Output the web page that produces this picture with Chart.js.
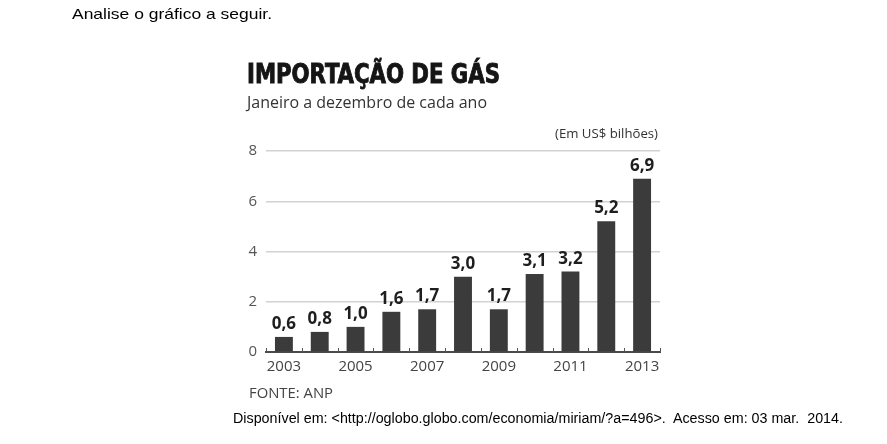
<!DOCTYPE html>
<html>
<head>
<meta charset="utf-8">
<script src="https://cdn.jsdelivr.net/npm/chart.js@4.4.1/dist/chart.umd.min.js"></script>
<style>
html,body{margin:0;padding:0;background:#fff;width:887px;height:444px;overflow:hidden;}
#wrap{position:relative;width:887px;height:444px;}
canvas{position:absolute;left:0;top:0;}
.t{position:absolute;white-space:nowrap;line-height:1;transform-origin:0 0;}
</style>
</head>
<body>
<div id="wrap">
<canvas id="c" width="887" height="444"></canvas>
<div class="t" id="intro" style="left:72px;top:6px;font:14.5px 'Liberation Sans',Arial,sans-serif;color:#000;" data-w="200">Analise o gráfico a seguir.</div>
<div class="t" id="title" style="left:247px;top:58px;font:bold 27px 'Liberation Sans Narrow','DejaVu Sans Condensed',sans-serif;color:#151515;-webkit-text-stroke:0.9px #151515;" data-w="253">IMPORTAÇÃO DE GÁS</div>
<div class="t" id="sub" style="left:247px;top:90px;font:17px 'Open Sans',sans-serif;color:#333;" data-w="240">Janeiro a dezembro de cada ano</div>
<div class="t" id="unit" style="left:555px;top:124px;font:13px 'Open Sans',sans-serif;color:#333;" data-w="103">(Em US$ bilhões)</div>
<div class="t" id="src" style="left:249px;top:382px;font:15px 'Open Sans',sans-serif;color:#444;" data-w="84">FONTE: ANP</div>
<div class="t" id="cite" style="left:233px;top:410px;font:14px 'Liberation Sans',Arial,sans-serif;color:#000;" data-w="610">Disponível em: &lt;http://oglobo.globo.com/economia/miriam/?a=496&gt;.&nbsp; Acesso em: 03 mar.&nbsp; 2014.</div>
</div>
<script>
const years = ['2003','2004','2005','2006','2007','2008','2009','2010','2011','2012','2013'];
const values = [0.6, 0.8, 1.0, 1.6, 1.7, 3.0, 1.7, 3.1, 3.2, 5.2, 6.9];
const yTicks = [0, 2, 4, 6, 8];

document.querySelectorAll('.t').forEach(el => {
  const w = +el.dataset.w;
  const r = el.getBoundingClientRect().width;
  if (w && r) el.style.transform = 'scaleX(' + (w / r) + ')';
});

const valueLabels = {
  id: 'valueLabels',
  afterDatasetsDraw(chart) {
    const ctx = chart.ctx;
    const meta = chart.getDatasetMeta(0);
    ctx.save();
    ctx.font = 'bold 17px "Open Sans", sans-serif';
    ctx.fillStyle = '#1e1e1e';
    ctx.textAlign = 'center';
    ctx.textBaseline = 'alphabetic';
    meta.data.forEach((bar, i) => {
      const txt = values[i].toFixed(1).replace('.', ',');
      ctx.fillText(txt, bar.x, bar.y - 8);
    });
    ctx.restore();
  }
};

// small upward tick marks at category boundaries, positioned from the x scale
const boundaryTicks = {
  id: 'boundaryTicks',
  afterDraw(chart) {
    const xs = chart.scales.x;
    const ctx = chart.ctx;
    const y0 = chart.scales.y.getPixelForValue(0);
    const half = (xs.getPixelForValue(1) - xs.getPixelForValue(0)) / 2;
    ctx.save();
    ctx.strokeStyle = '#555';
    ctx.lineWidth = 1;
    for (let i = 0; i <= years.length; i++) {
      const x = Math.round(xs.getPixelForValue(i) - half) + 0.5;
      ctx.beginPath();
      ctx.moveTo(x, y0 - 4);
      ctx.lineTo(x, y0);
      ctx.stroke();
    }
    ctx.restore();
  }
};

new Chart(document.getElementById('c'), {
  type: 'bar',
  data: {
    labels: years,
    datasets: [{
      data: values,
      backgroundColor: '#3b3b3b',
      borderWidth: 0,
      categoryPercentage: 1.0,
      barPercentage: 0.5
    }]
  },
  options: {
    responsive: false,
    animation: false,
    devicePixelRatio: 1,
    layout: { padding: { left: 230, right: 227, top: 151, bottom: 62 } },
    plugins: { legend: { display: false }, tooltip: { enabled: false } },
    scales: {
      x: {
        offset: true,
        grid: { display: false },
        border: { display: true, color: '#4a4a4a', width: 2 },
        ticks: {
          autoSkip: false, maxRotation: 0, padding: -2, color: '#444',
          font: { family: 'Open Sans', size: 15 },
          callback: (v, i) => (i % 2 === 0 ? years[i] : '')
        },
        afterFit: s => { s.height = 30; }
      },
      y: {
        min: 0, max: 8,
        afterBuildTicks: s => { s.ticks = yTicks.map(v => ({ value: v })); },
        grid: {
          drawTicks: false,
          color: ctx => (ctx.tick && ctx.tick.value === 0 ? 'rgba(0,0,0,0)' : '#d2d2d2'),
          lineWidth: 1.5
        },
        border: { display: false },
        ticks: { padding: 9, color: '#555', font: { family: 'Open Sans', size: 15 } },
        afterFit: s => { s.width = 36; }
      }
    }
  },
  plugins: [valueLabels, boundaryTicks]
});
</script>
</body>
</html>
